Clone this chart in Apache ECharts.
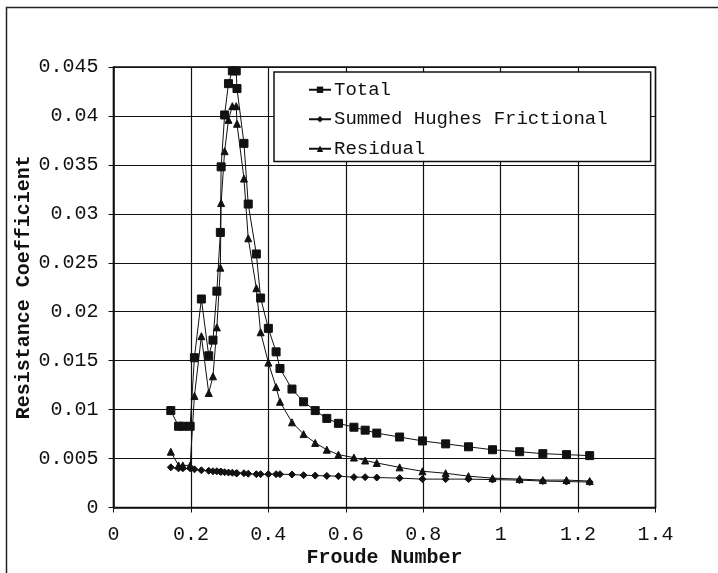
<!DOCTYPE html>
<html>
<head>
<meta charset="utf-8">
<script src="https://cdn.jsdelivr.net/npm/echarts@6/dist/echarts.min.js"></script>
<style>
  html, body { margin: 0; padding: 0; background: #fff; }
  #chart { width: 718px; height: 573px; }
</style>
</head>
<body>
<div id="chart"></div>
<script>
const froude = [0.148, 0.168, 0.179, 0.198, 0.209, 0.227, 0.246, 0.257, 0.267, 0.276, 0.278, 0.287, 0.297, 0.307, 0.317, 0.319, 0.337, 0.348, 0.369, 0.380, 0.400, 0.420, 0.430, 0.461, 0.491, 0.521, 0.551, 0.581, 0.621, 0.650, 0.680, 0.739, 0.798, 0.858, 0.917, 0.979, 1.049, 1.109, 1.170, 1.230];
const total = [0.0099, 0.0083, 0.0083, 0.0083, 0.0153, 0.0213, 0.0155, 0.0171, 0.0221, 0.0281, 0.0348, 0.0401, 0.0433, 0.0446, 0.0446, 0.0428, 0.0372, 0.0310, 0.0259, 0.0214, 0.0183, 0.0159, 0.0142, 0.0121, 0.0108, 0.0099, 0.0091, 0.0086, 0.0082, 0.0079, 0.0076, 0.0072, 0.0068, 0.0065, 0.0062, 0.0059, 0.0057, 0.0055, 0.0054, 0.0053];
const frictional = [0.0041, 0.0040, 0.0040, 0.0040, 0.0039, 0.0038, 0.00375, 0.0037, 0.0037, 0.00365, 0.00365, 0.0036, 0.00357, 0.00355, 0.0035, 0.0035, 0.0035, 0.00345, 0.0034, 0.0034, 0.0034, 0.0034, 0.0034, 0.00337, 0.0033, 0.00326, 0.00323, 0.0032, 0.0031, 0.0031, 0.00306, 0.0030, 0.0029, 0.0029, 0.0029, 0.00285, 0.0028, 0.0027, 0.00265, 0.0026];
const residual = [0.0057, 0.0043, 0.0043, 0.0043, 0.0114, 0.0175, 0.0117, 0.0134, 0.0184, 0.0245, 0.0311, 0.0364, 0.0396, 0.0410, 0.0410, 0.0392, 0.0336, 0.0275, 0.0224, 0.0179, 0.0148, 0.0123, 0.0108, 0.0087, 0.0075, 0.0066, 0.0059, 0.0054, 0.0051, 0.0048, 0.00455, 0.0041, 0.0037, 0.0035, 0.0032, 0.0030, 0.0029, 0.0028, 0.0028, 0.0027];
const seriesNames = ['Total', 'Summed Hughes Frictional', 'Residual'];
const xAxisName = 'Froude Number';
const yAxisName = 'Resistance Coefficient';

const FONT = "'Liberation Mono', 'DejaVu Sans Mono', monospace";
const INK = '#111';
const pairs = ys => froude.map((x, i) => [x, ys[i]]);
const fmt = v => String(parseFloat(Number(v).toFixed(4)));

const chart = echarts.init(document.getElementById('chart'), null, { renderer: 'canvas' });
const mk = (name, data, symbol, size) => ({
  name, type: 'line', data,
  symbol, symbolSize: size, showSymbol: true,
  lineStyle: { color: INK, width: 1 },
  itemStyle: { color: INK, borderColor: INK },
  emphasis: { disabled: true },
  animation: false
});

chart.setOption({
  animation: false,
  backgroundColor: '#fff',
  graphic: [{
    type: 'polyline',
    shape: { points: [[6.5, 573], [6.5, 7.5], [718, 7.5]] },
    style: { stroke: '#222', lineWidth: 1.5, fill: null },
    silent: true
  }],
  grid: { left: 113.5, right: 62.5, top: 67, bottom: 65.5, show: true, borderColor: INK, borderWidth: 1.5, backgroundColor: 'transparent' },
  legend: {
    data: seriesNames,
    orient: 'vertical',
    left: 274, top: 72,
    padding: [8, 43, 3, 34],
    itemGap: 10,
    itemWidth: 22, itemHeight: 8,
    backgroundColor: '#fff',
    borderColor: INK, borderWidth: 1.5,
    textStyle: { fontFamily: FONT, fontSize: 19, color: INK, lineHeight: 19.5, padding: [0, 0, 0, -2] },
    selectedMode: false
  },
  xAxis: {
    type: 'value', min: 0, max: 1.4, interval: 0.2,
    name: xAxisName, nameLocation: 'middle', nameGap: 40, nameMoveOverlap: false,
    nameTextStyle: { fontFamily: FONT, fontSize: 20, fontWeight: 'bold', color: INK },
    axisLine: { show: true, lineStyle: { color: INK, width: 1.5 } },
    axisTick: { show: true, inside: false, length: 5, lineStyle: { color: INK } },
    axisLabel: { fontFamily: FONT, fontSize: 20, color: INK, margin: 17, formatter: fmt },
    splitLine: { show: true, lineStyle: { color: INK, width: 1.2 } }
  },
  yAxis: {
    type: 'value', min: 0, max: 0.045, interval: 0.005,
    name: yAxisName, nameLocation: 'middle', nameGap: 80, nameRotate: 90, nameMoveOverlap: false,
    nameTextStyle: { fontFamily: FONT, fontSize: 20, fontWeight: 'bold', color: INK },
    axisLine: { show: true, lineStyle: { color: INK, width: 1.5 } },
    axisTick: { show: true, inside: false, length: 5, lineStyle: { color: INK } },
    axisLabel: { fontFamily: FONT, fontSize: 20, color: INK, margin: 15, formatter: fmt },
    splitLine: { show: true, lineStyle: { color: INK, width: 1.2 } }
  },
  series: [
    mk(seriesNames[0], pairs(total), 'rect', 8),
    mk(seriesNames[1], pairs(frictional), 'diamond', 7),
    mk(seriesNames[2], pairs(residual), 'triangle', 7)
  ]
});
</script>
</body>
</html>
